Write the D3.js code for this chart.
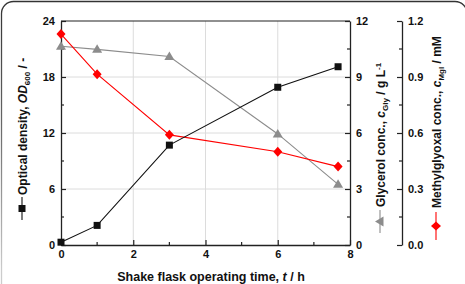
<!DOCTYPE html>
<html>
<head>
<meta charset="utf-8">
<script src="https://cdn.jsdelivr.net/npm/d3@7"></script>
<style>
  body { margin: 0; background: #fff; }
  svg { display: block; }
  text { font-family: "Liberation Sans", Arial, sans-serif; font-weight: bold; }
</style>
</head>
<body>
<div id="chart"></div>
<script>
// data
const timeH = [0, 1, 3, 6, 7.67];
const opticalDensity = [0.3, 2.1, 10.7, 16.9, 19.1];
const glycerol = [10.65, 10.48, 10.1, 5.95, 3.25];
const methylglyoxal = [1.13, 0.915, 0.59, 0.5, 0.42];

const xTicks = [0, 2, 4, 6, 8];
const odTicks = [0, 6, 12, 18, 24];
const glyTicks = [0, 3, 6, 9, 12];
const mglTicks = [0, 0.3, 0.6, 0.9, 1.2];

const W = 465, H = 284;
const plot = { left: 61, right: 350, top: 21, bottom: 245 };
const mglAxisX = 402;

const svg = d3.select("#chart").append("svg")
  .attr("width", W)
  .attr("height", H);

// outer rounded frame (cropped), fading toward the bottom
const grad = svg.append("defs").append("linearGradient")
  .attr("id", "frameFade").attr("x1", 0).attr("y1", 0).attr("x2", 0).attr("y2", 1);
grad.append("stop").attr("offset", "0%").attr("stop-color", "#333");
grad.append("stop").attr("offset", "40%").attr("stop-color", "#666");
grad.append("stop").attr("offset", "90%").attr("stop-color", "#ccc");

svg.append("rect")
  .attr("x", 1.5).attr("y", 1.5)
  .attr("width", 465.5).attr("height", 300)
  .attr("rx", 12)
  .attr("fill", "none")
  .attr("stroke", "url(#frameFade)")
  .attr("stroke-width", 1.3);

// scales
const x = d3.scaleLinear().domain([0, 8]).range([plot.left, plot.right]);
const yOD = d3.scaleLinear().domain([0, 24]).range([plot.bottom, plot.top]);
const yGly = d3.scaleLinear().domain([0, 12]).range([plot.bottom, plot.top]);
const yMgl = d3.scaleLinear().domain([0, 1.2]).range([plot.bottom, plot.top]);

// grid
const grid = svg.append("g").attr("stroke", "#dcdcdc").attr("stroke-width", 1);
[2, 4, 6].forEach(v => {
  grid.append("line").attr("x1", x(v)).attr("x2", x(v)).attr("y1", plot.top).attr("y2", plot.bottom);
});
[6, 12, 18].forEach(v => {
  grid.append("line").attr("x1", plot.left).attr("x2", plot.right).attr("y1", yOD(v)).attr("y2", yOD(v));
});

// top frame
svg.append("line")
  .attr("x1", plot.left).attr("x2", plot.right).attr("y1", plot.top).attr("y2", plot.top)
  .attr("stroke", "#222").attr("stroke-width", 1.2);

function styleAxis(g) {
  g.select(".domain").attr("stroke", "#222").attr("stroke-width", 1.3);
  g.selectAll(".tick line").attr("stroke", "#222").attr("stroke-width", 1.2);
  g.selectAll("text").style("font-size", "11px").attr("fill", "#111");
}

function minorTicks(g, values, scale, horizontal, len) {
  g.append("g").selectAll("line").data(values).join("line")
    .attr("x1", d => horizontal ? scale(d) : 0)
    .attr("x2", d => horizontal ? scale(d) : len)
    .attr("y1", d => horizontal ? 0 : scale(d))
    .attr("y2", d => horizontal ? len : scale(d))
    .attr("stroke", "#222").attr("stroke-width", 1.2);
}

// bottom axis
const gx = svg.append("g")
  .attr("transform", `translate(0,${plot.bottom})`)
  .call(d3.axisBottom(x).tickValues(xTicks).tickSizeInner(-5).tickSizeOuter(0).tickPadding(4));
styleAxis(gx);
gx.selectAll("text").attr("y", 5);
minorTicks(gx, [1, 3, 5, 7], x, true, -3);

// left axis
const gy = svg.append("g")
  .attr("transform", `translate(${plot.left},0)`)
  .call(d3.axisLeft(yOD).tickValues(odTicks).tickSizeInner(-5).tickSizeOuter(0).tickPadding(6));
styleAxis(gy);
minorTicks(gy, [3, 9, 15, 21], yOD, false, 3);

// glycerol axis
const gg = svg.append("g")
  .attr("transform", `translate(${plot.right},0)`)
  .call(d3.axisRight(yGly).tickValues(glyTicks).tickSizeInner(-5).tickSizeOuter(0).tickPadding(6));
styleAxis(gg);
minorTicks(gg, [1.5, 4.5, 7.5, 10.5], yGly, false, -3);

// methylglyoxal axis
const gm = svg.append("g")
  .attr("transform", `translate(${mglAxisX},0)`)
  .call(d3.axisRight(yMgl).tickValues(mglTicks).tickFormat(d3.format(".1f"))
    .tickSizeInner(-5).tickSizeOuter(0).tickPadding(6));
styleAxis(gm);
minorTicks(gm, [0.15, 0.45, 0.75, 1.05], yMgl, false, -3);

// markers
function drawMarker(g, type, cx, cy, color) {
  if (type === "square") {
    g.append("rect").attr("x", cx - 3.5).attr("y", cy - 3.5).attr("width", 7).attr("height", 7).attr("fill", color);
  } else if (type === "triangle") {
    g.append("path").attr("d", `M${cx},${cy - 5}L${cx + 5},${cy + 3.5}L${cx - 5},${cy + 3.5}Z`).attr("fill", color);
  } else {
    g.append("path").attr("d", `M${cx},${cy - 5}L${cx + 4.5},${cy}L${cx},${cy + 5}L${cx - 4.5},${cy}Z`).attr("fill", color);
  }
}

const series = [
  { values: glycerol, y: yGly, color: "#8c8c8c", marker: "triangle" },
  { values: methylglyoxal, y: yMgl, color: "#ff0000", marker: "diamond" },
  { values: opticalDensity, y: yOD, color: "#111", marker: "square" }
];

series.forEach(s => {
  const pts = timeH.map((t, i) => [x(t), s.y(s.values[i])]);
  svg.append("path")
    .attr("d", d3.line()(pts))
    .attr("fill", "none")
    .attr("stroke", s.color)
    .attr("stroke-width", 1.1);
  const g = svg.append("g");
  pts.forEach(p => drawMarker(g, s.marker, p[0], p[1], s.color));
});

// x title
svg.append("text")
  .attr("x", 211).attr("y", 281)
  .attr("text-anchor", "middle")
  .style("font-size", "12.5px")
  .attr("fill", "#111")
  .html('Shake flask operating time, <tspan font-style="italic">t</tspan> / h');

// rotated titles with legend symbols; positions are page y values
function sideTitle(cx, textStartY, lineTop, lineBottom, html, marker, color) {
  const g = svg.append("g").attr("transform", `translate(${cx},0) rotate(-90)`);
  g.append("text")
    .attr("x", -textStartY)
    .attr("y", 4.5)
    .style("font-size", "12px")
    .attr("fill", "#111")
    .html(html);
  g.append("line")
    .attr("x1", -lineBottom).attr("x2", -lineTop).attr("y1", 0).attr("y2", 0)
    .attr("stroke", color).attr("stroke-width", 1.1);
  drawMarker(g, marker, -(lineTop + lineBottom) / 2, 0, color);
}

sideTitle(22, 195, 197, 220,
  'Optical density, <tspan font-style="italic">OD</tspan><tspan font-size="8px" dy="3">600</tspan><tspan dy="-3"> / -</tspan>',
  "square", "#111");
sideTitle(380, 207, 210, 233,
  'Glycerol conc., <tspan font-style="italic">c</tspan><tspan font-size="8px" dy="3">Gly</tspan><tspan dy="-3"> / g L</tspan><tspan font-size="8px" dy="-4">-1</tspan>',
  "triangle", "#8c8c8c");
sideTitle(436, 208, 212, 240,
  'Methylglyoxal conc., <tspan font-style="italic">c</tspan><tspan font-size="8px" dy="3">Mgl</tspan><tspan dy="-3"> / mM</tspan>',
  "diamond", "#ff0000");
</script>
</body>
</html>
